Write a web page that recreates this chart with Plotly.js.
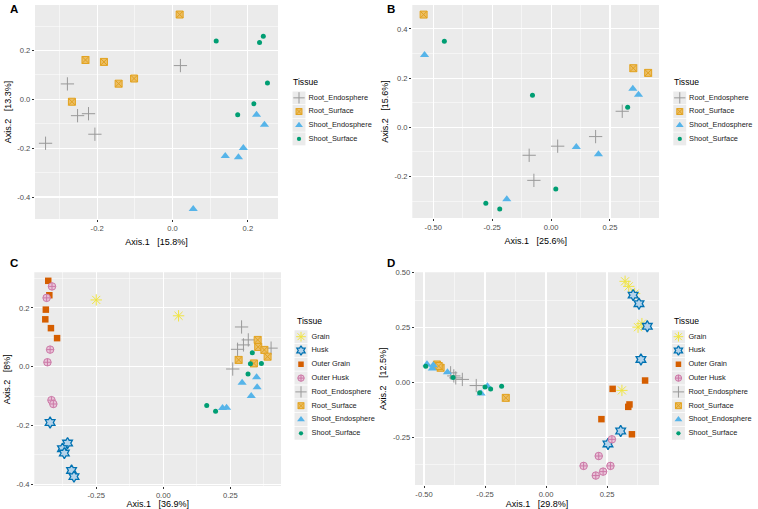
<!DOCTYPE html>
<html>
<head>
<meta charset="utf-8">
<script src="https://cdn.plot.ly/plotly-3.0.1.min.js"></script>
<style>html,body{margin:0;padding:0;background:#fff;}#chart{width:758px;height:509px;}</style>
</head>
<body>
<div id="chart"></div>
<script>
// ---------- categories ----------
const tissues4 = ["Root_Endosphere", "Root_Surface", "Shoot_Endosphere", "Shoot_Surface"];
const tissues8 = ["Grain", "Husk", "Outer Grain", "Outer Husk", "Root_Endosphere", "Root_Surface", "Shoot_Endosphere", "Shoot_Surface"];

// ---------- axis titles / ticks ----------
const axisTitlesX = ["Axis.1   [15.8%]", "Axis.1   [25.6%]", "Axis.1   [36.9%]", "Axis.1   [29.8%]"];
const axisTitlesY = ["Axis.2   [13.3%]", "Axis.2   [15.6%]", "Axis.2   [8%]", "Axis.2   [12.5%]"];
const panelLetters = ["A", "B", "C", "D"];
const tickA_x = [-0.2, 0.0, 0.2], tickA_xt = ["-0.2", "0.0", "0.2"];
const tickA_y = [-0.4, -0.2, 0.0, 0.2], tickA_yt = ["-0.4", "-0.2", "0.0", "0.2"];
const tickB_x = [-0.5, -0.25, 0.0, 0.25], tickB_xt = ["-0.50", "-0.25", "0.00", "0.25"];
const tickB_y = [-0.2, 0.0, 0.2, 0.4], tickB_yt = ["-0.2", "0.0", "0.2", "0.4"];
const tickC_x = [-0.25, 0.0, 0.25], tickC_xt = ["-0.25", "0.00", "0.25"];
const tickC_y = [-0.4, -0.2, 0.0, 0.2], tickC_yt = ["-0.4", "-0.2", "0.0", "0.2"];
const tickD_x = [-0.5, -0.25, 0.0, 0.25], tickD_xt = ["-0.50", "-0.25", "0.00", "0.25"];
const tickD_y = [-0.25, 0.0, 0.25, 0.5], tickD_yt = ["-0.25", "0.00", "0.25", "0.50"];

// ---------- Panel A ----------
const aRootEndoX = [-0.337, -0.279, -0.252, -0.223, -0.206, 0.021];
const aRootEndoY = [-0.180, 0.063, -0.067, -0.059, -0.143, 0.138];
const aRootSurfX = [0.019, -0.231, -0.182, -0.143, -0.102, -0.267];
const aRootSurfY = [0.347, 0.161, 0.153, 0.064, 0.085, -0.010];
const aShootEndoX = [0.223, 0.244, 0.188, 0.140, 0.175, 0.055];
const aShootEndoY = [-0.063, -0.104, -0.199, -0.232, -0.237, -0.449];
const aShootSurfX = [0.116, 0.241, 0.231, 0.252, 0.216, 0.173];
const aShootSurfY = [0.239, 0.258, 0.232, 0.067, -0.018, -0.063];

// ---------- Panel B ----------
const bRootEndoX = [0.302, 0.189, 0.028, -0.093, -0.073];
const bRootEndoY = [0.065, -0.038, -0.077, -0.114, -0.216];
const bRootSurfX = [-0.541, 0.349, 0.412];
const bRootSurfY = [0.458, 0.240, 0.221];
const bShootEndoX = [-0.537, 0.347, 0.371, 0.107, 0.201, -0.188];
const bShootEndoY = [0.294, 0.157, 0.132, -0.080, -0.110, -0.293];
const bShootSurfX = [-0.453, -0.079, 0.325, 0.020, -0.277, -0.218];
const bShootSurfY = [0.350, 0.130, 0.081, -0.251, -0.309, -0.332];

// ---------- Panel C ----------
const cGrainX = [-0.250, 0.057];
const cGrainY = [0.227, 0.173];
const cHuskX = [-0.422, -0.357, -0.376, -0.369, -0.342, -0.333];
const cHuskY = [-0.190, -0.260, -0.279, -0.294, -0.353, -0.374];
const cOuterGrainX = [-0.429, -0.425, -0.438, -0.440, -0.419, -0.396];
const cOuterGrainY = [0.292, 0.243, 0.194, 0.161, 0.131, 0.097];
const cOuterHuskX = [-0.415, -0.435, -0.422, -0.432, -0.417, -0.410];
const cOuterHuskY = [0.273, 0.234, 0.058, 0.015, -0.114, -0.127];
const cRootEndoX = [0.292, 0.317, 0.299, 0.277, 0.402, 0.259];
const cRootEndoY = [0.135, 0.091, 0.074, 0.059, 0.063, -0.008];
const cRootSurfX = [0.352, 0.354, 0.377, 0.389, 0.281, 0.338];
const cRootSurfY = [0.091, 0.067, 0.057, 0.034, 0.023, 0.011];
const cShootEndoX = [0.294, 0.348, 0.350, 0.328, 0.221, 0.236];
const cShootEndoY = [-0.055, -0.036, -0.070, -0.100, -0.141, -0.140];
const cShootSurfX = [0.332, 0.325, 0.366, 0.316, 0.162, 0.195];
const cShootSurfY = [0.047, 0.010, 0.011, -0.025, -0.132, -0.152];

// ---------- Panel D ----------
const dGrainX = [0.324, 0.339, 0.363, 0.393, 0.377, 0.311];
const dGrainY = [0.461, 0.438, 0.405, 0.268, 0.252, -0.036];
const dHuskX = [0.357, 0.381, 0.415, 0.389, 0.306, 0.254];
const dHuskY = [0.398, 0.359, 0.256, 0.105, -0.221, -0.280];
const dOuterGrainX = [0.273, 0.406, 0.337, 0.342, 0.227, 0.352];
const dOuterGrainY = [-0.029, 0.009, -0.111, -0.100, -0.167, -0.236];
const dOuterHuskX = [0.270, 0.216, 0.154, 0.234, 0.204, 0.264];
const dOuterHuskY = [-0.259, -0.335, -0.380, -0.406, -0.424, -0.380];
const dRootEndoX = [-0.391, -0.370, -0.343, -0.286, -0.378];
const dRootEndoY = [0.044, 0.021, 0.014, -0.014, 0.030];
const dRootSurfX = [-0.447, -0.432, -0.165, -0.440];
const dRootSurfY = [0.082, 0.067, -0.070, 0.075];
const dShootEndoX = [-0.488, -0.466, -0.462, -0.404, -0.266, -0.240];
const dShootEndoY = [0.083, 0.064, 0.078, 0.047, -0.050, -0.017];
const dShootSurfX = [-0.493, -0.381, -0.272, -0.250, -0.227, -0.182];
const dShootSurfY = [0.074, 0.023, -0.047, -0.021, -0.030, -0.017];

// ---------- styles ----------
const styles = {
  "Grain":            {symbol: "asterisk-open", size: 9.5, color: "#F0E442", line: {color: "#EDE04A", width: 1}},
  "Husk":             {symbol: "hexagram", size: 8.5, color: "#B5D3EA", line: {color: "#0072B2", width: 1.3}},
  "Outer Grain":      {symbol: "square", size: 6.5, color: "#D55E00", line: {color: "#D55E00", width: 0}},
  "Outer Husk":       {symbol: "circle-cross", size: 7.5, color: "#E8C3D8", line: {color: "#CC79A7", width: 1}},
  "Root_Endosphere":  {symbol: "cross-thin-open", size: 9.5, color: "#999999", line: {color: "#9A9A9A", width: 1}},
  "Root_Surface":     {symbol: "square-x", size: 7, color: "#EBBE66", line: {color: "#E2A21E", width: 1}},
  "Shoot_Endosphere": {symbol: "triangle-up", size: 8, color: "#56B4E9", line: {color: "#56B4E9", width: 0}},
  "Shoot_Surface":    {symbol: "circle", size: 5, color: "#009E73", line: {color: "#009E73", width: 0}}
};
const legendScale = 0.85;

const W = 758, H = 509;
const px2x = p => p / W;
const px2y = p => 1 - p / H;

const panels = [
  {ax: "", dom: [[35, 278], [5, 219]], xr: [-0.365, 0.28], yr: [-0.49, 0.386],
   tx: [tickA_x, tickA_xt], ty: [tickA_y, tickA_yt],
   series: [["Root_Endosphere", aRootEndoX, aRootEndoY], ["Root_Surface", aRootSurfX, aRootSurfY],
            ["Shoot_Endosphere", aShootEndoX, aShootEndoY], ["Shoot_Surface", aShootSurfX, aShootSurfY]],
   leg: {cats: tissues4, keyX: 299, txtX: 308.5, top: 91, row: 13.7, titleX: 291, titleY: 82}, letter: [8, 9]},
  {ax: "2", dom: [[412.3, 659], [5, 218]], xr: [-0.589, 0.458], yr: [-0.369, 0.497],
   tx: [tickB_x, tickB_xt], ty: [tickB_y, tickB_yt],
   series: [["Root_Endosphere", bRootEndoX, bRootEndoY], ["Root_Surface", bRootSurfX, bRootSurfY],
            ["Shoot_Endosphere", bShootEndoX, bShootEndoY], ["Shoot_Surface", bShootSurfX, bShootSurfY]],
   leg: {cats: tissues4, keyX: 680, txtX: 689.5, top: 91, row: 13.7, titleX: 672, titleY: 82}, letter: [385, 9]},
  {ax: "3", dom: [[34.3, 281], [272.3, 486]], xr: [-0.481, 0.439], yr: [-0.406, 0.321],
   tx: [tickC_x, tickC_xt], ty: [tickC_y, tickC_yt],
   series: [["Grain", cGrainX, cGrainY], ["Husk", cHuskX, cHuskY], ["Outer Grain", cOuterGrainX, cOuterGrainY],
            ["Outer Husk", cOuterHuskX, cOuterHuskY], ["Root_Endosphere", cRootEndoX, cRootEndoY],
            ["Root_Surface", cRootSurfX, cRootSurfY], ["Shoot_Endosphere", cShootEndoX, cShootEndoY],
            ["Shoot_Surface", cShootSurfX, cShootSurfY]],
   leg: {cats: tissues8, keyX: 301, txtX: 311.5, top: 329.8, row: 13.8, titleX: 295, titleY: 321}, letter: [8, 263]},
  {ax: "4", dom: [[415, 659], [272.3, 485]], xr: [-0.537, 0.463], yr: [-0.467, 0.502],
   tx: [tickD_x, tickD_xt], ty: [tickD_y, tickD_yt],
   series: [["Grain", dGrainX, dGrainY], ["Husk", dHuskX, dHuskY], ["Outer Grain", dOuterGrainX, dOuterGrainY],
            ["Outer Husk", dOuterHuskX, dOuterHuskY], ["Root_Endosphere", dRootEndoX, dRootEndoY],
            ["Root_Surface", dRootSurfX, dRootSurfY], ["Shoot_Endosphere", dShootEndoX, dShootEndoY],
            ["Shoot_Surface", dShootSurfX, dShootSurfY]],
   leg: {cats: tissues8, keyX: 678.5, txtX: 688.5, top: 329.8, row: 13.8, titleX: 672, titleY: 321}, letter: [385, 263]}
];

const FONT = "Liberation Sans, Arial, sans-serif";
const data = [];
const layout = {
  width: W, height: H, margin: {l: 0, r: 0, t: 0, b: 0},
  paper_bgcolor: "#ffffff", plot_bgcolor: "#ffffff",
  showlegend: false, font: {family: FONT, color: "#000"},
  annotations: [], shapes: []
};

panels.forEach((p, i) => {
  const xa = "x" + p.ax, ya = "y" + p.ax;
  // plot background
  layout.shapes.push({type: "rect", xref: "paper", yref: "paper", layer: "below",
    x0: px2x(p.dom[0][0]), x1: px2x(p.dom[0][1]), y0: px2y(p.dom[1][1]), y1: px2y(p.dom[1][0]),
    fillcolor: "#EBEBEB", line: {width: 0}});
  const common = {showline: false, zeroline: false, ticks: "outside", ticklen: 2.2, tickwidth: 1,
    tickcolor: "#333333", showgrid: true, gridcolor: "#FFFFFF", gridwidth: 1.1,
    tickfont: {family: FONT, size: 7.6, color: "#4D4D4D"}, tickmode: "array", layer: "above traces"};
  const xminor = {showgrid: true, gridcolor: "#FFFFFF", gridwidth: 0.5, ticks: "", tickmode: "linear",
    tick0: p.tx[0][0], dtick: (p.tx[0][1] - p.tx[0][0]) / 2};
  const yminor = {showgrid: true, gridcolor: "#FFFFFF", gridwidth: 0.5, ticks: "", tickmode: "linear",
    tick0: p.ty[0][0], dtick: (p.ty[0][1] - p.ty[0][0]) / 2};
  layout["xaxis" + p.ax] = Object.assign({}, common, {
    domain: [px2x(p.dom[0][0]), px2x(p.dom[0][1])], range: p.xr, anchor: ya,
    tickvals: p.tx[0], ticktext: p.tx[1], minor: xminor,
    title: {text: axisTitlesX[i], font: {family: FONT, size: 9, color: "#000"}, standoff: 6}
  });
  layout["yaxis" + p.ax] = Object.assign({}, common, {
    domain: [px2y(p.dom[1][1]), px2y(p.dom[1][0])], range: p.yr, anchor: xa,
    tickvals: p.ty[0], ticktext: p.ty[1], minor: yminor,
    title: {text: axisTitlesY[i], font: {family: FONT, size: 9, color: "#000"}, standoff: 4}
  });
  p.series.forEach(s => {
    const st = styles[s[0]];
    data.push({type: "scatter", mode: "markers", name: s[0], x: s[1], y: s[2], xaxis: xa, yaxis: ya,
      cliponaxis: false,
      marker: {symbol: st.symbol, size: st.size, color: st.color, line: st.line}});
  });
  // legend drawn on its own small axis pair
  const li = 5 + i;
  const lg = p.leg;
  const n = lg.cats.length;
  const lx0 = lg.keyX - 10, lx1 = lg.keyX + 80;
  layout["xaxis" + li] = {domain: [px2x(lx0), px2x(lx1)], range: [lx0, lx1], visible: false, fixedrange: true, anchor: "y" + li};
  layout["yaxis" + li] = {domain: [px2y(lg.top + n * lg.row), px2y(lg.top)], type: "category",
    categoryarray: lg.cats, range: [n - 0.5, -0.5], visible: false, fixedrange: true, anchor: "x" + li};
  data.push({type: "scatter", mode: "markers", x: lg.cats.map(() => lg.keyX), y: lg.cats,
    xaxis: "x" + li, yaxis: "y" + li, hoverinfo: "skip",
    marker: {symbol: "square", size: lg.row - 0.8, color: "#EBEBEB", line: {width: 0}}});
  lg.cats.forEach(c => {
    const st = styles[c];
    data.push({type: "scatter", mode: "markers", x: [lg.keyX], y: [c], xaxis: "x" + li, yaxis: "y" + li,
      hoverinfo: "skip", marker: {symbol: st.symbol, size: st.size * legendScale, color: st.color, line: st.line}});
  });
  data.push({type: "scatter", mode: "text", x: lg.cats.map(() => lg.txtX), y: lg.cats, text: lg.cats,
    textposition: "middle right", xaxis: "x" + li, yaxis: "y" + li, hoverinfo: "skip",
    textfont: {family: FONT, size: 7.4, color: "#1a1a1a"}});
  layout.annotations.push({text: "Tissue", xref: "paper", yref: "paper", x: px2x(lg.titleX), y: px2y(lg.titleY),
    xanchor: "left", yanchor: "middle", showarrow: false, font: {family: FONT, size: 8.6, color: "#000"}});
  layout.annotations.push({text: "<b>" + panelLetters[i] + "</b>", xref: "paper", yref: "paper",
    x: px2x(p.letter[0]), y: px2y(p.letter[1]), xanchor: "left", yanchor: "middle", showarrow: false,
    font: {family: FONT, size: 11.5, color: "#000"}});
});

Plotly.newPlot("chart", data, layout, {staticPlot: true, displayModeBar: false});
</script>
</body>
</html>
